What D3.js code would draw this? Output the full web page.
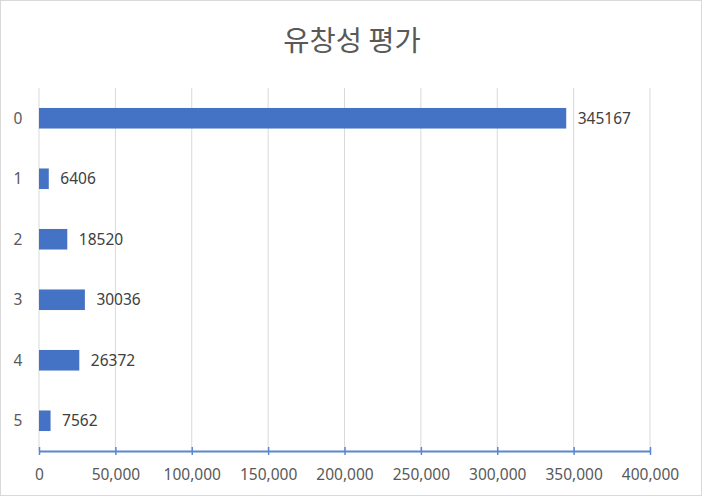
<!DOCTYPE html>
<html><head><meta charset="utf-8">
<script src="https://cdn.jsdelivr.net/npm/d3@7"></script>
<style>
html,body{margin:0;padding:0;background:#fff;}
svg{display:block;}
</style></head>
<body>
<svg id="chart" width="703" height="497"></svg>
<script>
const title = "유창성 평가";
const categories = ["0","1","2","3","4","5"];
const values = [345167, 6406, 18520, 30036, 26372, 7562];
const xTicks = [0,50000,100000,150000,200000,250000,300000,350000,400000];

const W = 703, H = 497;
const margin = {left: 39, right: 53, top: 88, bottom: 46};
const svg = d3.select("#chart");
const font = "'Noto Sans', 'Noto Sans CJK KR', sans-serif";

svg.append("rect").attr("x",0.5).attr("y",0.5).attr("width",W-2).attr("height",H-2)
  .attr("fill","#fff").attr("stroke","#d9d9d9");

const x = d3.scaleLinear().domain([0,400000]).range([margin.left, W-margin.right]);
const y = d3.scaleBand().domain(categories).range([margin.top, H-margin.bottom]).paddingInner(0.66).paddingOuter(0.33);

svg.append("text").attr("x", 352).attr("y", 40.5).attr("dy","0.36em").attr("text-anchor","middle")
  .attr("font-family","'Noto Sans CJK KR', sans-serif").attr("font-size",28.5).attr("fill","#595959")
  .text(title);

// gridlines
svg.append("g").selectAll("line").data(xTicks).join("line")
  .attr("x1", d=>x(d)).attr("x2", d=>x(d))
  .attr("y1", margin.top).attr("y2", H-margin.bottom)
  .attr("stroke","#d9d9d9").attr("stroke-width",1);

// bars
svg.append("g").selectAll("rect").data(values).join("rect")
  .attr("x", x(0)).attr("y", (d,i)=>y(categories[i]))
  .attr("width", d=>x(d)-x(0)).attr("height", y.bandwidth())
  .attr("fill","#4472C4");

// data labels
svg.append("g").selectAll("text").data(values).join("text")
  .attr("x", d=>x(d)+11.5).attr("y", (d,i)=>y(categories[i])+y.bandwidth()/2)
  .attr("dy","0.36em").attr("font-family",font).attr("font-size",15.5).attr("fill","#404040")
  .text(d=>d);

// category labels
svg.append("g").selectAll("text").data(categories).join("text")
  .attr("x", 18).attr("y", d=>y(d)+y.bandwidth()/2).attr("dy","0.36em")
  .attr("text-anchor","middle").attr("font-family",font).attr("font-size",15.5).attr("fill","#595959")
  .text(d=>d);

// x axis
const axisY = H-margin.bottom;
const axis = d3.axisBottom(x).tickValues(xTicks).tickFormat(d3.format(",")).tickSizeInner(8).tickSizeOuter(0).tickPadding(10);
const g = svg.append("g").attr("transform",`translate(0,${axisY})`).call(axis);
g.select(".domain").attr("stroke","#5b86d0").attr("stroke-width",2);
g.selectAll(".tick line").attr("stroke","#5b86d0").attr("stroke-width",1.5).attr("y1",-4).attr("y2",4);
g.selectAll(".tick text").attr("y",23).attr("dy","0.36em").attr("font-family",font).attr("font-size",15.5).attr("fill","#595959");
</script>
</body></html>
